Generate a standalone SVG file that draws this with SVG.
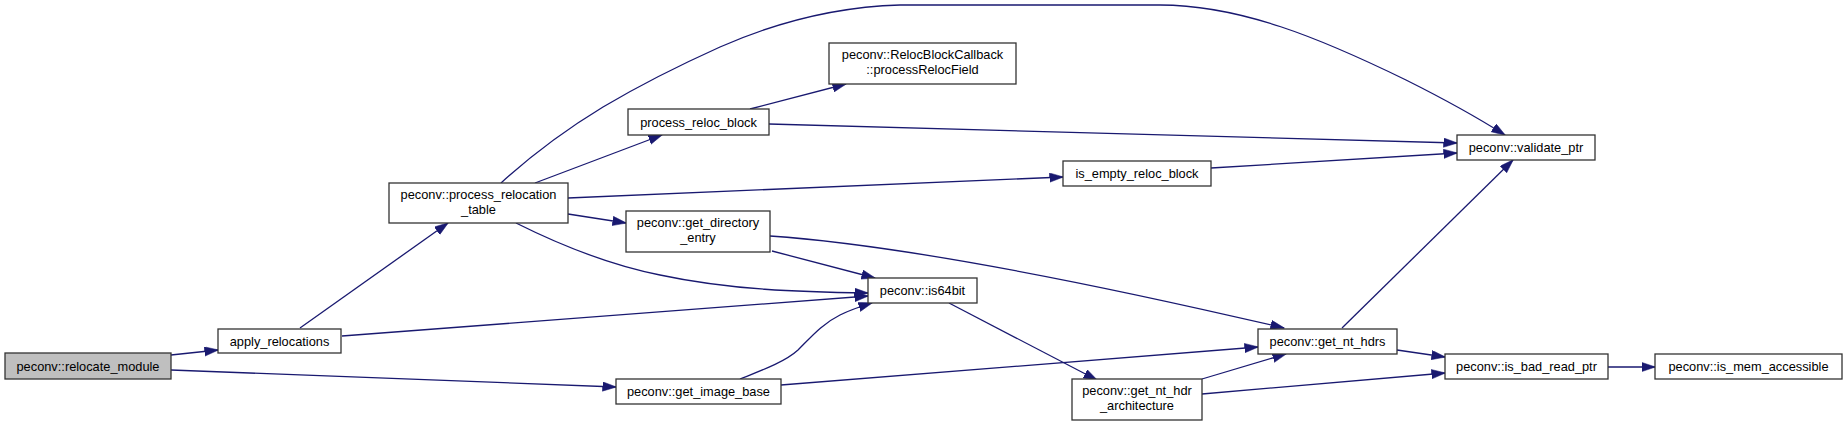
<svg xmlns="http://www.w3.org/2000/svg" width="1847" height="426" viewBox="0 0 1847 426">
<style>
.n rect{fill:#ffffff;stroke:#333333;stroke-width:1.3}
.n.root rect{fill:#bfbfbf}
.n text{font-family:"Liberation Sans",Arial,sans-serif;font-size:12.8px;fill:#000000;text-anchor:middle}
.e path{fill:none;stroke:#191970;stroke-width:1.3}
</style>
<defs>
<marker id="ah" markerUnits="userSpaceOnUse" markerWidth="15" markerHeight="10" refX="13.5" refY="4.7" orient="auto">
<path d="M0,0 L14,4.7 L0,9.4 z" fill="#191970" stroke="#191970" stroke-width="0.5"/>
</marker>
</defs>
<rect width="1847" height="426" fill="#ffffff"/>
<g id="edges" class="e" marker-end="url(#ah)">
<path d="M171,355 L218,350" marker-end="url(#ah)"/>
<path d="M171,370 L616,387" marker-end="url(#ah)"/>
<path d="M300,328 L448,223" marker-end="url(#ah)"/>
<path d="M342,336 L868,296" marker-end="url(#ah)"/>
<path d="M501,183 C535,152 570,127 603,107 C640,85 680,65 720,47 C770,25 830,7 900,5 L1160,5 C1240,5 1320,38 1406,80 C1440,97 1475,116 1505,135" marker-end="url(#ah)"/>
<path d="M535,183 L662,135" marker-end="url(#ah)"/>
<path d="M568,198 L1063,177" marker-end="url(#ah)"/>
<path d="M568,214 L626,223" marker-end="url(#ah)"/>
<path d="M516,223 C560,245 610,265 660,275 C730,290 800,292 868,293" marker-end="url(#ah)"/>
<path d="M750,109 L846,84" marker-end="url(#ah)"/>
<path d="M769,124 L1457,143" marker-end="url(#ah)"/>
<path d="M1211,168 L1457,153" marker-end="url(#ah)"/>
<path d="M772,251 L875,278" marker-end="url(#ah)"/>
<path d="M770,236 C900,245 1100,285 1284,328" marker-end="url(#ah)"/>
<path d="M740,379 C760,371 785,362 798,350 C812,336 822,324 840,315 C850,310 862,306 872,303" marker-end="url(#ah)"/>
<path d="M949,303 L1097,380" marker-end="url(#ah)"/>
<path d="M781,385 L1258,347" marker-end="url(#ah)"/>
<path d="M1202,379 L1286,354" marker-end="url(#ah)"/>
<path d="M1202,394 L1445,373" marker-end="url(#ah)"/>
<path d="M1397,350 L1445,357" marker-end="url(#ah)"/>
<path d="M1342,328 L1513,160" marker-end="url(#ah)"/>
<path d="M1608,367 L1655,367" marker-end="url(#ah)"/>
</g>
<g id="relocate_module" class="n root"><rect x="5" y="353" width="166" height="26"/><text x="88" y="370.5">peconv::relocate_module</text></g>
<g id="apply_relocations" class="n"><rect x="218" y="329" width="123" height="24"/><text x="279.5" y="345.5">apply_relocations</text></g>
<g id="process_relocation_table" class="n"><rect x="389" y="183" width="179" height="40"/><text x="478.5" y="198.8">peconv::process_relocation</text><text x="478.5" y="213.5">_table</text></g>
<g id="process_reloc_block" class="n"><rect x="628" y="109" width="141" height="26"/><text x="698.5" y="126.5">process_reloc_block</text></g>
<g id="processRelocField" class="n"><rect x="829" y="43" width="187" height="41"/><text x="922.5" y="59.3">peconv::RelocBlockCallback</text><text x="922.5" y="74">::processRelocField</text></g>
<g id="is_empty_reloc_block" class="n"><rect x="1063" y="161" width="148" height="25"/><text x="1137" y="178">is_empty_reloc_block</text></g>
<g id="get_directory_entry" class="n"><rect x="626" y="211" width="144" height="41"/><text x="698" y="227.3">peconv::get_directory</text><text x="698" y="242">_entry</text></g>
<g id="is64bit" class="n"><rect x="868" y="278" width="109" height="25"/><text x="922.5" y="295">peconv::is64bit</text></g>
<g id="get_image_base" class="n"><rect x="616" y="379" width="165" height="25"/><text x="698.5" y="396">peconv::get_image_base</text></g>
<g id="get_nt_hdr_architecture" class="n"><rect x="1072" y="379" width="130" height="41"/><text x="1137" y="395.3">peconv::get_nt_hdr</text><text x="1137" y="410">_architecture</text></g>
<g id="get_nt_hdrs" class="n"><rect x="1258" y="329" width="139" height="25"/><text x="1327.5" y="346">peconv::get_nt_hdrs</text></g>
<g id="validate_ptr" class="n"><rect x="1457" y="135" width="138" height="25"/><text x="1526" y="152">peconv::validate_ptr</text></g>
<g id="is_bad_read_ptr" class="n"><rect x="1445" y="354" width="163" height="25"/><text x="1526.5" y="371">peconv::is_bad_read_ptr</text></g>
<g id="is_mem_accessible" class="n"><rect x="1655" y="354" width="187" height="25"/><text x="1748.5" y="371">peconv::is_mem_accessible</text></g>
</svg>
